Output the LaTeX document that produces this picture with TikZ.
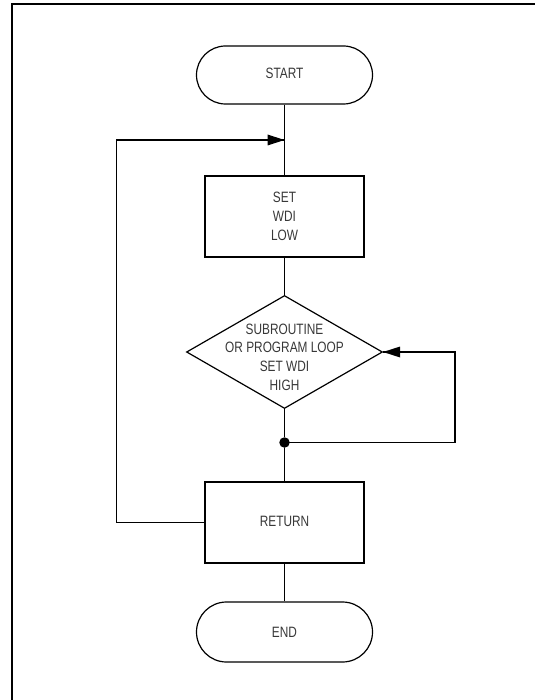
\documentclass[tikz,border=0pt]{standalone}
\usepackage{fontspec}
\setmainfont{Liberation Sans}[FakeStretch=0.79]
\usetikzlibrary{shapes.geometric}
\begin{document}
\begin{tikzpicture}[x=1pt,y=-1pt,line width=1.2pt,
  txt/.style={font=\fontsize{15}{18.7}\selectfont, text=black!78, align=center},
  term/.style={draw, rounded corners=29pt, minimum width=176pt, minimum height=58pt, inner sep=0pt, txt},
  proc/.style={draw, rectangle, minimum width=159pt, minimum height=81pt, inner sep=0pt, txt},
  decis/.style={draw, diamond, minimum width=196pt, minimum height=113pt, inner sep=0pt},
  junct/.style={circle, fill=black, minimum size=10.5pt, inner sep=0pt},
  head/.style={fill=black, draw=none}
]
\useasboundingbox (0,0) rectangle (535,700);
% frame
\draw[line width=1.6pt] (12,700) -- (12,4) -- (535,4);

\node[term] (start) at (284.5,75) {\raisebox{3pt}{START}};
\node[proc] (set) at (284.5,216.5) {SET\\WDI\\LOW};
\node[decis] (dec) at (284.5,352) {};
\node[txt] (dectxt) at (284.5,357) {SUBROUTINE\\OR PROGRAM LOOP\\SET WDI\\HIGH};
\node[junct] (dot) at (284.5,442.5) {};
\node[proc] (ret) at (284.5,522.5) {\raisebox{2pt}{RETURN}};
\node[term, minimum height=60pt, rounded corners=30pt] (end) at (284.5,632) {END};

\coordinate (j1) at (284.5,140);
\coordinate (lt) at (116.5,140);
\coordinate (lb) at (116.5,522.5);
\coordinate (rb) at (455,442.5);
\coordinate (rt) at (455,352);

\draw (start) -- (set);
\draw (set) -- (dec);
\draw (dec) -- (dot);
\draw (dot) -- (ret);
\draw (ret) -- (end);
\draw (dot.center) -- (rb) -- (rt) -- (dec.east);
\fill[head] (dec.east) -- ++(17,-5.5) -- ++(0,11) -- cycle;
\draw (ret.west) -- (lb) -- (lt) -- (j1);
\fill[head] (j1) -- ++(-17,-5.5) -- ++(0,11) -- cycle;
\end{tikzpicture}
\end{document}
